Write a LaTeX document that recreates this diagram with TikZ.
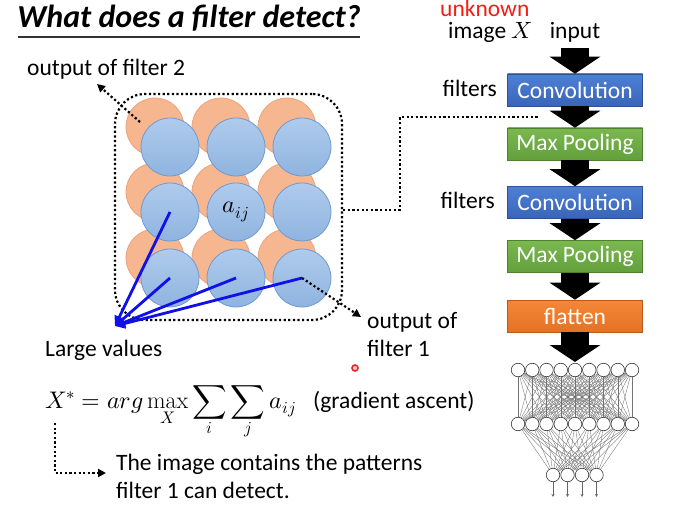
\documentclass[tikz,border=0pt]{standalone}
\usepackage{fontspec}
\usepackage{unicode-math}
\setmainfont{Carlito}
\setmathfont{Latin Modern Math}
\setmathrm{Latin Modern Roman}
\usetikzlibrary{arrows.meta,calc}
\definecolor{bfillT}{HTML}{AFCBEC}
\definecolor{bfillB}{HTML}{8FB4E0}
\definecolor{bdraw}{HTML}{6E9AD0}
\definecolor{ofill}{HTML}{F6B690}
\definecolor{odraw}{HTML}{EDA37A}
\definecolor{convT}{HTML}{4F80D6}
\definecolor{convB}{HTML}{3865B8}
\definecolor{poolT}{HTML}{7BB84F}
\definecolor{poolB}{HTML}{62A03C}
\definecolor{flatT}{HTML}{F38739}
\definecolor{flatB}{HTML}{E57224}
\definecolor{linkblue}{HTML}{1010E8}
\newcommand\txtsize{\fontsize{23.5}{28}\selectfont}
\newcommand\mathsz{\fontsize{24}{28}\selectfont}
\begin{document}
\begin{tikzpicture}[x=1pt,y=-1pt,
  lbl/.style={font=\txtsize, inner sep=0pt},
  boxst/.style={minimum width=135pt, minimum height=32pt, inner sep=0pt, font=\txtsize, text=white, line width=0.6pt},
  bcirc/.style={circle, minimum size=58pt, inner sep=0pt, draw=bdraw, top color=bfillT, bottom color=bfillB, line width=0.8pt},
  ocirc/.style={circle, minimum size=58pt, inner sep=0pt, draw=odraw, fill=ofill, line width=0.8pt},
  dots/.style={line width=2.2pt, dash pattern=on 2.2pt off 2.4pt, black},
  dottip/.style={-{Triangle[length=8pt,width=8pt]}},
  blockarrow/.style={line width=28pt, black, -{Triangle[length=17pt,width=50pt]}},
  bluel/.style={line width=2.8pt, linkblue, -{Triangle[length=10pt,width=10pt]}},
  nn/.style={circle, minimum size=13.5pt, inner sep=0pt, draw=black!80, fill=white, line width=0.6pt},
  nnl/.style={black!55, line width=0.35pt}]
\useasboundingbox (0,0) rectangle (692,510);

% title
\node[font=\fontsize{32}{36}\selectfont\bfseries\itshape, inner sep=0pt, anchor=base] (title) at (189,28) {What does a filter detect?};
\draw[black!80, line width=1.2pt] (18,37) -- (360,37);

% feature map circles
\foreach \r/\y in {1/147,2/212,3/278}{
  \foreach \c/\x in {1/170,2/236,3/302}{
    \node[ocirc] (o\r\c) at (\x-15,\y-20) {};
  }
}
\foreach \r/\y in {1/147,2/212,3/278}{
  \foreach \c/\x in {1/170,2/236,3/302}{
    \node[bcirc] (b\r\c) at (\x,\y) {};
  }
}
\node[font=\mathsz, inner sep=0pt] (aij) at (b22) {$a_{ij}$};

% group box
\node[draw, dots, rounded corners=30pt, minimum width=227pt, minimum height=226pt, inner sep=0pt] (grp) at (228.5,207) {};

% labels
\node[lbl, anchor=base west] (f2) at (27,76) {output of filter 2};
\coordinate (f2tip) at (97,84);
\coordinate (f2start) at (140,122);
\draw[dots, dottip] (f2start) -- (f2tip);

\node[lbl, anchor=base west] (f1a) at (367,328) {output of};
\node[lbl, anchor=base west] (f1b) at (367,356) {filter 1};
\coordinate (f1tip) at (361,317);
\draw[dots, dottip] (b33.center) -- (f1tip);

\node[lbl, anchor=base west] (lv) at (45,356) {Large values};
\coordinate (lvtip) at (115,326);
\draw[bluel] (b21.center) -- (lvtip);
\draw[bluel] (b31.center) -- (lvtip);
\draw[bluel] (b32.center) -- (lvtip);
\draw[bluel] (b33.center) -- (lvtip);

% right pipeline
\node[lbl, anchor=base west, text={rgb,255:red,240;green,30;blue,20}] (unk) at (440,17) {unknown};
\node[lbl, anchor=base west] (img) at (448,39) {image $X$};
\node[lbl, anchor=base] (inp) at (575,39) {input};

\node[boxst, draw=convB!80!black, top color=convT, bottom color=convB] (conv1) at (575,90) {Convolution};
\node[boxst, draw=poolB!80!black, top color=poolT, bottom color=poolB] (mp1) at (575,144) {Max Pooling};
\node[boxst, draw=convB!80!black, top color=convT, bottom color=convB] (conv2) at (575,202.5) {Convolution};
\node[boxst, draw=poolB!80!black, top color=poolT, bottom color=poolB] (mp2) at (575,256.5) {Max Pooling};
\node[boxst, draw=flatB!80!black, top color=flatT, bottom color=flatB] (flat) at (575,316) {flatten};

\node[lbl, anchor=base east] (fil1) at (497,97) {filters};
\node[lbl, anchor=base east] (fil2) at (495,209) {filters};

\coordinate (inbase) at (575,48);
\draw[blockarrow] (inbase) -- (conv1.north);
\draw[blockarrow] (conv1.south) -- (mp1.north);
\draw[blockarrow] (mp1.south) -- (conv2.north);
\draw[blockarrow] (conv2.south) -- (mp2.north);
\draw[blockarrow] (mp2.south) -- (flat.north);
\coordinate (nettop) at (575,362);
\draw[blockarrow] (flat.south) -- (nettop);

% dotted link from group to pipeline
\coordinate (lk1) at (400,210);
\coordinate (lk2) at (400,117);
\coordinate (lk3) at (538,117);
\draw[dots] (grp.east |- lk1) -- (lk1) -- (lk2) -- (lk3);

% neural network
\foreach \i in {1,...,9}{
  \node[nn] (t\i) at ({518+(\i-1)*14.25},370) {};
  \node[nn] (m\i) at ({518+(\i-1)*14.25},424) {};
}
\foreach \i/\x in {1/553,2/567.5,3/582,4/596.5}{
  \node[nn] (q\i) at (\x,475) {};
}
\foreach \i in {1,...,9}{
  \foreach \j in {1,...,9}{
    \draw[nnl] (t\i) -- (m\j);
  }
  \foreach \j in {1,...,4}{
    \draw[nnl] (m\i) -- (q\j);
  }
}
\foreach \i in {1,...,4}{
  \coordinate (qo\i) at ($(q\i)+(0,22)$);
  \draw[black!60, line width=0.6pt, -{Stealth[length=3pt,width=3pt]}] (q\i) -- (qo\i);
}

% formula
\node[font=\mathsz, inner sep=0pt, anchor=base west] (form) at (45,408) {$\displaystyle X^{*}=arg\max_{X}\sum_{i}\sum_{j}a_{ij}$};
\node[lbl, anchor=base west] (ga) at (313,408) {(gradient ascent)};
\coordinate (fs) at (55,423);
\coordinate (fc) at (55,473);
\coordinate (ft) at (106,473);
\draw[dots, dottip] (fs) -- (fc) -- (ft);
\node[lbl, anchor=base west] (c1) at (116,470) {The image contains the patterns};
\node[lbl, anchor=base west] (c2) at (116,498) {filter 1 can detect.};

% pointer dot
\node[circle, draw={rgb,255:red,235;green,40;blue,40}, line width=1.6pt, fill={rgb,255:red,255;green,200;blue,200}, minimum size=6pt, inner sep=0pt] (ptr) at (355,368) {};
\end{tikzpicture}
\end{document}
